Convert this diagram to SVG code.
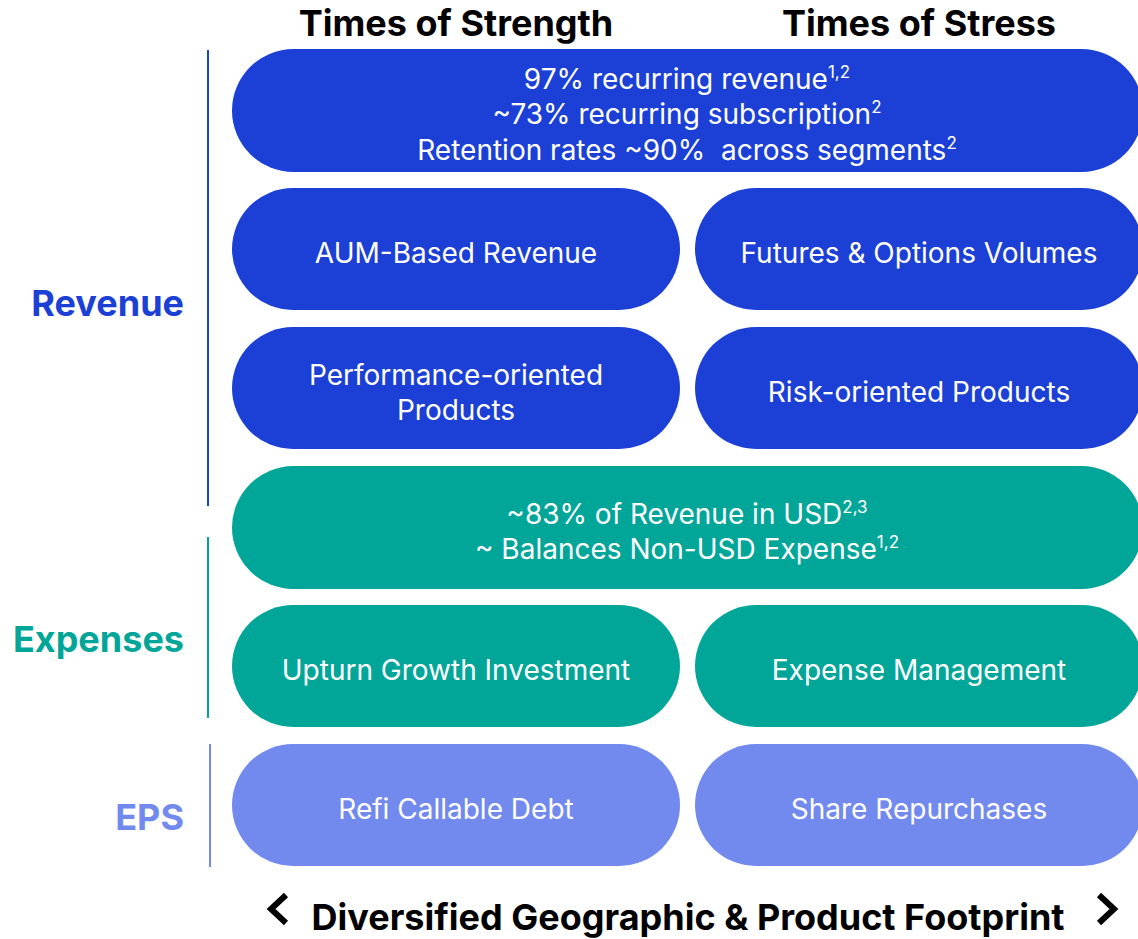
<svg xmlns="http://www.w3.org/2000/svg" width="1138" height="939" viewBox="0 0 1138 939">
  <style>
    .hdr { font-family: Inter, "Liberation Sans", sans-serif; font-weight: 700; font-size: 36px; fill: #000; text-anchor: middle; }
    .cat { font-family: Inter, "Liberation Sans", sans-serif; font-weight: 700; font-size: 36px; text-anchor: end; }
    .lbl { font-family: Inter, "Liberation Sans", sans-serif; font-weight: 400; font-size: 28px; fill: #fff; text-anchor: middle; }
    .sup { font-size: 17px; }
    .rev { fill: #1C3FD6; }
    .exp { fill: #02A698; }
    .eps { fill: #7289EE; }
    .bar { stroke-width: 2; }
    .chev { fill: none; stroke: #000; stroke-width: 6; }
  </style>

  <!-- column headers -->
  <text class="hdr" x="456" y="36">Times of Strength</text>
  <text class="hdr" x="919" y="36">Times of Stress</text>

  <!-- category labels and brackets -->
  <g id="cat-revenue">
    <text class="cat rev" x="184" y="316">Revenue</text>
    <line class="bar" x1="208" y1="50" x2="208" y2="506" stroke="#1C3FD6"/>
  </g>
  <g id="cat-expenses">
    <text class="cat exp" x="184" y="652">Expenses</text>
    <line class="bar" x1="208" y1="537" x2="208" y2="718" stroke="#02A698"/>
  </g>
  <g id="cat-eps">
    <text class="cat eps" x="184" y="830">EPS</text>
    <line class="bar" x1="210" y1="744" x2="210" y2="867" stroke="#7289EE"/>
  </g>

  <!-- revenue row: full width -->
  <g id="recurring">
    <rect class="rev" x="232" y="49" width="911" height="123" rx="61.5"/>
    <text class="lbl" x="687" y="89">97% recurring revenue<tspan class="sup" dy="-11">1,2</tspan></text>
    <text class="lbl" x="687" y="124">~73% recurring subscription<tspan class="sup" dy="-11">2</tspan></text>
    <text class="lbl" x="687" y="160">Retention rates ~90%&#160; across segments<tspan class="sup" dy="-11">2</tspan></text>
  </g>

  <g id="aum">
    <rect class="rev" x="232" y="188" width="448" height="122" rx="61"/>
    <text class="lbl" x="456" y="263">AUM-Based Revenue</text>
  </g>
  <g id="futures">
    <rect class="rev" x="695" y="188" width="448" height="122" rx="61"/>
    <text class="lbl" x="919" y="263">Futures &amp; Options Volumes</text>
  </g>

  <g id="performance">
    <rect class="rev" x="232" y="327" width="448" height="122" rx="61"/>
    <text class="lbl" x="456" y="385">Performance-oriented</text>
    <text class="lbl" x="456" y="420">Products</text>
  </g>
  <g id="risk">
    <rect class="rev" x="695" y="327" width="448" height="122" rx="61"/>
    <text class="lbl" x="919" y="402">Risk-oriented Products</text>
  </g>

  <!-- expenses rows -->
  <g id="usd">
    <rect class="exp" x="232" y="466" width="911" height="123" rx="61.5"/>
    <text class="lbl" x="687" y="524">~83% of Revenue in USD<tspan class="sup" dy="-11">2,3</tspan></text>
    <text class="lbl" x="687" y="559">~ Balances Non-USD Expense<tspan class="sup" dy="-11">1,2</tspan></text>
  </g>

  <g id="upturn">
    <rect class="exp" x="232" y="605" width="448" height="122" rx="61"/>
    <text class="lbl" x="456" y="680">Upturn Growth Investment</text>
  </g>
  <g id="expense-mgmt">
    <rect class="exp" x="695" y="605" width="448" height="122" rx="61"/>
    <text class="lbl" x="919" y="680">Expense Management</text>
  </g>

  <!-- EPS row -->
  <g id="refi">
    <rect class="eps" x="232" y="744" width="448" height="122" rx="61"/>
    <text class="lbl" x="456" y="819">Refi Callable Debt</text>
  </g>
  <g id="repurchases">
    <rect class="eps" x="695" y="744" width="448" height="122" rx="61"/>
    <text class="lbl" x="919" y="819">Share Repurchases</text>
  </g>

  <!-- footer with direction chevrons -->
  <g id="footer">
    <path class="chev" d="M286 895 L271 909 L286 923"/>
    <text class="hdr" x="688" y="930">Diversified Geographic &amp; Product Footprint</text>
    <path class="chev" d="M1099 895 L1114 909 L1099 923"/>
  </g>
</svg>
